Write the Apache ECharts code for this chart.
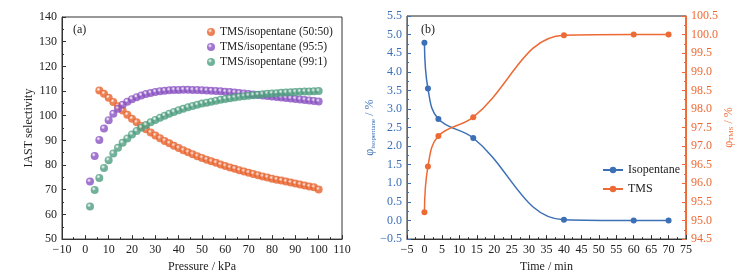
<!DOCTYPE html>
<html>
<head>
<meta charset="utf-8">
<script src="https://cdn.jsdelivr.net/npm/echarts@6/dist/echarts.min.js"></script>
<style>
  html, body { margin: 0; padding: 0; background: #fff; }
  #main { width: 748px; height: 278px; }
</style>
</head>
<body>
<div id="main"></div>
<script>
// (a) IAST selectivity vs pressure
var pressure = [2,4,6,8,10,12,14,16,18,20,22,24,26,28,30,32,34,36,38,40,42,44,46,48,50,
                52,54,56,58,60,62,64,66,68,70,72,74,76,78,80,82,84,86,88,90,92,94,96,98,100]
var sel5050 = [null,null,110.2,108.9,107.3,105.6,103.8,102.1,100.4,98.8,97.3,95.8,94.5,93.2,92.0,90.9,89.8,88.8,87.8,86.9,86.0,85.2,84.4,83.6,82.9,
               82.2,81.5,80.9,80.2,79.6,79.0,78.5,77.9,77.4,76.9,76.4,75.9,75.4,75.0,74.5,74.1,73.7,73.3,72.9,72.5,72.1,71.7,71.3,71.0,70.1]
var sel955 = [73.3,83.7,90.2,94.8,98.2,100.8,102.8,104.4,105.7,106.7,107.5,108.2,108.8,109.2,109.6,109.9,110.1,110.3,110.4,110.4,110.5,110.5,110.4,110.4,110.3,
              110.2,110.1,110.0,109.9,109.7,109.6,109.4,109.2,109.0,108.8,108.6,108.4,108.2,108.0,107.8,107.6,107.4,107.2,107.0,106.8,106.6,106.4,106.2,106.0,105.8]
var sel991 = [63.2,69.9,74.8,78.8,82.0,84.7,87.0,89.0,90.8,92.4,93.8,95.1,96.2,97.3,98.3,99.2,100.0,100.8,101.5,102.2,102.8,103.4,103.9,104.4,104.9,
              105.3,105.7,106.1,106.5,106.8,107.1,107.4,107.7,107.9,108.1,108.3,108.5,108.7,108.9,109.0,109.1,109.3,109.4,109.5,109.6,109.7,109.8,109.8,109.9,110.0]

// (b) volume fraction vs time
var time = [0,1,4,14,40,60,70]
var isopentane = [4.78,3.55,2.73,2.22,0.02,0.0,0.0]
var tms = [95.22,96.45,97.27,97.78,99.98,100.0,100.0]

var serif = 'Liberation Serif'
var cOrange = '#E8622C', cPurple = '#8A52C2', cGreen = '#4E9E80'
var cBlue = '#3B6FB6', cTms = '#EE6A35'

function pairs(xs, ys){
  var out = []
  xs.forEach(function(x, i){ if (ys[i] != null) out.push([x, ys[i]]) })
  return out
}
function ball(c){
  return {type:'radial', x:0.38, y:0.35, r:0.75,
          colorStops:[{offset:0, color:'#ffffff'},{offset:0.35, color:c},{offset:1, color:c}]}
}

var axLine = {onZero:false, lineStyle:{color:'#333', width:1}}
var chart = echarts.init(document.getElementById('main'))
chart.setOption({
  animation: false,
  textStyle: {fontFamily: serif},
  grid: [
    {left:62, right:406, top:17, bottom:36, show:true, borderColor:'#333', borderWidth:1},
    {left:407, right:62, top:16, bottom:36, show:true, borderColor:'#222', borderWidth:1}
  ],
  legend: [
    {orient:'vertical', left:202, top:21, itemGap:3, itemWidth:8, itemHeight:8, icon:'circle',
     textStyle:{fontFamily:serif, fontSize:11.5, color:'#222'},
     data:['TMS/isopentane (50:50)','TMS/isopentane (95:5)','TMS/isopentane (99:1)']},
    {orient:'vertical', left:597, top:159, itemGap:7, itemWidth:20, itemHeight:8,
     textStyle:{fontFamily:serif, fontSize:12, color:'#222'},
     data:['Isopentane','TMS']}
  ],
  graphic: [
    {type:'text', left:73, top:24, style:{text:'(a)', font:'12px "Liberation Serif"', fill:'#222'}},
    {type:'text', left:421, top:24, style:{text:'(b)', font:'12px "Liberation Serif"', fill:'#222'}}
  ],
  xAxis: [
    {gridIndex:0, type:'value', min:-10, max:110, interval:10,
     name:'Pressure / kPa', nameLocation:'middle', nameGap:19,
     nameTextStyle:{fontFamily:serif, fontSize:12, color:'#222'},
     axisLine:axLine, axisTick:{inside:true, length:4, lineStyle:{color:'#333'}},
     minorTick:{show:true, splitNumber:2, length:2, lineStyle:{color:'#333'}},
     axisLabel:{fontFamily:serif, fontSize:12, color:'#222', margin:5,
                formatter:function(v){ return v < 0 ? '\u2212' + (-v) : '' + v }},
     splitLine:{show:false}},
    {gridIndex:1, type:'value', min:-5, max:75, interval:5,
     name:'Time / min', nameLocation:'middle', nameGap:19,
     nameTextStyle:{fontFamily:serif, fontSize:12, color:'#222'},
     axisLine:axLine, axisTick:{inside:true, length:4, lineStyle:{color:'#333'}},
     minorTick:{show:true, splitNumber:2, length:2, lineStyle:{color:'#333'}},
     axisLabel:{fontFamily:serif, fontSize:12, color:'#222', margin:5,
                formatter:function(v){ return v < 0 ? '\u2212' + (-v) : '' + v }},
     splitLine:{show:false}}
  ],
  yAxis: [
    {gridIndex:0, type:'value', min:50, max:140, interval:10,
     name:'IAST selectivity', nameLocation:'middle', nameGap:26,
     nameTextStyle:{fontFamily:serif, fontSize:12, color:'#222'},
     axisLine:axLine, axisTick:{inside:true, length:4, lineStyle:{color:'#333'}},
     minorTick:{show:true, splitNumber:2, length:2, lineStyle:{color:'#333'}},
     axisLabel:{fontFamily:serif, fontSize:12, color:'#222', margin:5},
     splitLine:{show:false}},
    {gridIndex:1, type:'value', min:-0.5, max:5.5, interval:0.5, position:'left',
     name:'{a|φ}{s|isopentane}{a| / %}', nameLocation:'middle', nameGap:30,
     nameTextStyle:{rich:{a:{fontFamily:serif, fontSize:12, color:cBlue},
                          s:{fontFamily:serif, fontSize:7, color:cBlue, padding:[6,0,0,0]}}},
     axisLine:{onZero:false, lineStyle:{color:cBlue, width:1}},
     axisTick:{inside:true, length:4, lineStyle:{color:cBlue}},
     minorTick:{show:true, splitNumber:2, length:2, lineStyle:{color:cBlue}},
     axisLabel:{fontFamily:serif, fontSize:12, color:cBlue, margin:5,
                formatter:function(v){ return v < 0 ? '\u2212' + (-v).toFixed(1) : v.toFixed(1) }},
     splitLine:{show:false}},
    {gridIndex:1, type:'value', min:94.5, max:100.5, interval:0.5, position:'right',
     name:'{a|φ}{s|TMS}{a| / %}', nameLocation:'middle', nameGap:36, nameRotate:90,
     nameTextStyle:{rich:{a:{fontFamily:serif, fontSize:12, color:cTms},
                          s:{fontFamily:serif, fontSize:7, color:cTms, padding:[6,0,0,0]}}},
     axisLine:{onZero:false, lineStyle:{color:cTms, width:1}},
     axisTick:{inside:true, length:4, lineStyle:{color:cTms}},
     minorTick:{show:true, splitNumber:2, length:2, lineStyle:{color:cTms}},
     axisLabel:{fontFamily:serif, fontSize:12, color:cTms, margin:5,
                formatter:function(v){ return v.toFixed(1) }},
     splitLine:{show:false}}
  ],
  series: [
    {name:'TMS/isopentane (50:50)', type:'scatter', xAxisIndex:0, yAxisIndex:0,
     symbolSize:8, itemStyle:{color:ball(cOrange)}, data:pairs(pressure, sel5050)},
    {name:'TMS/isopentane (95:5)', type:'scatter', xAxisIndex:0, yAxisIndex:0,
     symbolSize:8, itemStyle:{color:ball(cPurple)}, data:pairs(pressure, sel955)},
    {name:'TMS/isopentane (99:1)', type:'scatter', xAxisIndex:0, yAxisIndex:0,
     symbolSize:8, itemStyle:{color:ball(cGreen)}, data:pairs(pressure, sel991)},
    {name:'Isopentane', type:'line', xAxisIndex:1, yAxisIndex:1, smooth:0.4,
     symbol:'circle', symbolSize:6, lineStyle:{color:cBlue, width:1.5},
     itemStyle:{color:cBlue}, data:pairs(time, isopentane)},
    {name:'TMS', type:'line', xAxisIndex:1, yAxisIndex:2, smooth:0.4,
     symbol:'circle', symbolSize:6, lineStyle:{color:cTms, width:1.5},
     itemStyle:{color:cTms}, data:pairs(time, tms)}
  ]
})
</script>
</body>
</html>
